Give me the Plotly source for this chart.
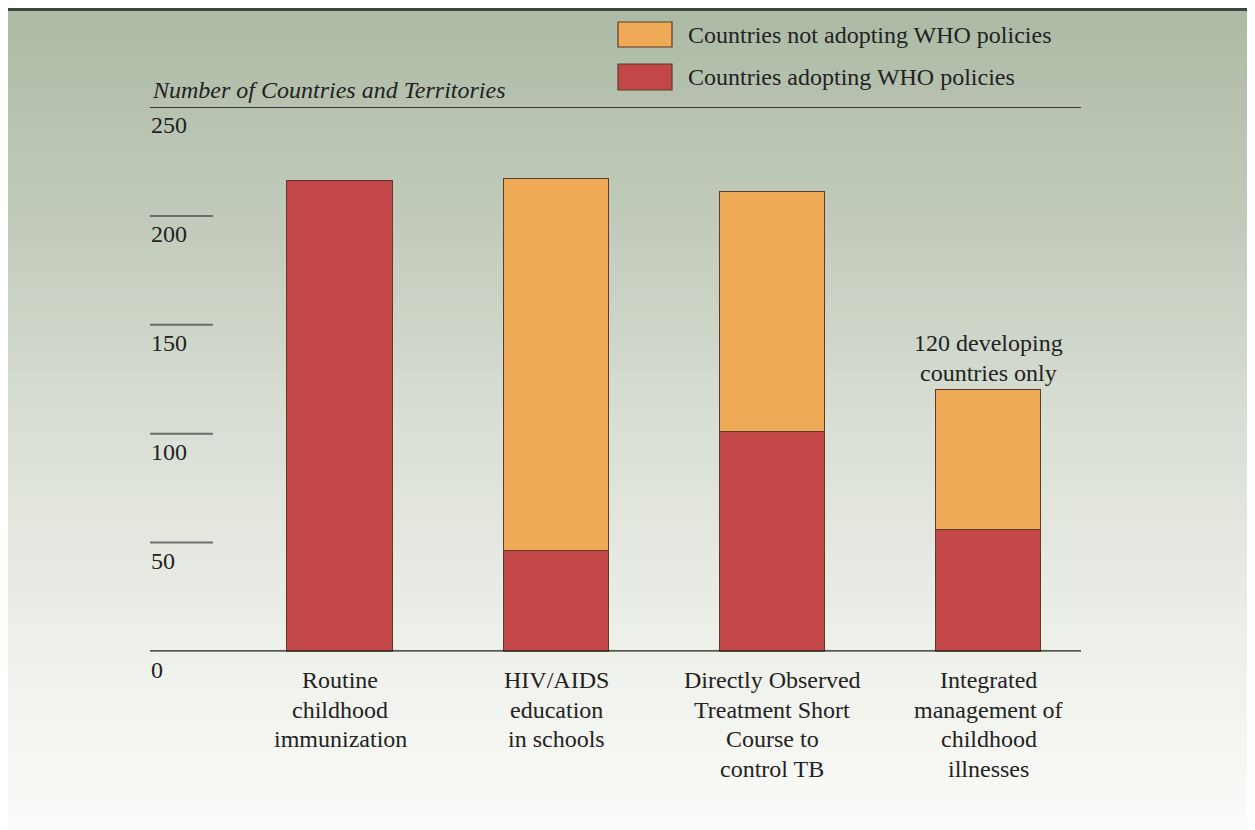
import plotly.graph_objects as go

# ---- data ----
categories = [
    "Routine<br>childhood<br>immunization",
    "HIV/AIDS<br>education<br>in schools",
    "Directly Observed<br>Treatment Short<br>Course to<br>control TB",
    "Integrated<br>management of<br>childhood<br>illnesses",
]
adopting = [216, 46, 101, 56]
not_adopting = [0, 171, 110, 64]
y_ticks = [0, 50, 100, 150, 200, 250]
y_title = "Number of Countries and Territories"
legend_labels = ["Countries not adopting WHO policies", "Countries adopting WHO policies"]
note_text = "120 developing<br>countries only"

RED = "#c44747"
ORANGE = "#eeaa56"
EDGE = "#5b3b2b"
FONT = "Liberation Serif"
TXT = "#222222"

OFF = 8  # page body margin
W, H = 1255 - OFF, 830 - OFF
def px(x):
    return (x - OFF) / W
def py(y):
    return (H - (y - OFF)) / H

x_idx = list(range(len(categories)))

fig = go.Figure()
fig.add_trace(go.Bar(x=x_idx, y=adopting, name=legend_labels[1], marker=dict(color=RED, line=dict(color=EDGE, width=1)), width=0.486))
fig.add_trace(go.Bar(x=x_idx, y=not_adopting, name=legend_labels[0], marker=dict(color=ORANGE, line=dict(color=EDGE, width=1)), width=0.486))

shapes = []
# background gradient
stops = [(0, (172, 186, 164)), (250, (196, 205, 190)), (450, (220, 225, 215)), (650, (238, 240, 234)), (830, (251, 251, 249))]
def col_at(y):
    for (y0, c0), (y1, c1) in zip(stops[:-1], stops[1:]):
        if y0 <= y <= y1:
            t = (y - y0) / (y1 - y0)
            return tuple(int(round(a + (b - a) * t)) for a, b in zip(c0, c1))
    return stops[-1][1]
n = 83
for i in range(n):
    y0 = i * 830 / n
    y1 = (i + 1) * 830 / n + 0.6
    c = col_at((y0 + y1) / 2)
    shapes.append(dict(type="rect", xref="paper", yref="paper", x0=-0.01, x1=1.01, y0=py(y1), y1=py(y0),
                       fillcolor="rgb(%d,%d,%d)" % c, line=dict(width=0), layer="below"))
# top dark rule
shapes.append(dict(type="line", xref="paper", yref="paper", x0=-0.01, x1=1.01, y0=py(9), y1=py(9),
                   line=dict(color="#3c473c", width=4), layer="above"))
# title rule at 250 and axis at 0
shapes.append(dict(type="line", xref="paper", yref="y", x0=px(150), x1=px(1081), y0=250, y1=250,
                   line=dict(color="#3a3a3a", width=2)))
shapes.append(dict(type="line", xref="paper", yref="y", x0=px(150), x1=px(1081), y0=0, y1=0,
                   line=dict(color="#1e1e1e", width=2.5), layer="above"))
# short tick lines
for v in y_ticks[1:-1]:
    shapes.append(dict(type="line", xref="paper", yref="y", x0=px(150), x1=px(213), y0=v, y1=v,
                       line=dict(color="#6e6e6e", width=2)))
# legend boxes
shapes.append(dict(type="rect", xref="paper", yref="paper", x0=px(618), x1=px(672), y0=py(47), y1=py(22),
                   fillcolor=ORANGE, line=dict(color=EDGE, width=1.2)))
shapes.append(dict(type="rect", xref="paper", yref="paper", x0=px(618), x1=px(672), y0=py(90), y1=py(64),
                   fillcolor=RED, line=dict(color=EDGE, width=1.2)))

FS = 24
LS = 29.5
def font():
    return dict(family=FONT, size=FS, color=TXT)

ann = []
for v in y_ticks:
    ann.append(dict(xref="paper", yref="y", x=px(149), y=v, yshift=-18, text=str(v), showarrow=False,
                    xanchor="left", yanchor="middle", font=font()))
ann.append(dict(xref="paper", yref="paper", x=px(150), y=py(90), text="<i>" + y_title + "</i>", showarrow=False,
                xanchor="left", yanchor="middle", font=font()))
for i, c in enumerate(categories):
    for j, line in enumerate(c.split("<br>")):
        ann.append(dict(xref="x", yref="paper", x=i, y=py(680 + j * LS), text=line, showarrow=False,
                        xanchor="center", yanchor="middle", font=font()))
note_lines = note_text.split("<br>")
for j, line in enumerate(note_lines):
    ann.append(dict(xref="x", yref="y", x=3, y=adopting[3] + not_adopting[3],
                    yshift=47 - (len(note_lines) - 1 - j) * -0 - j * LS, text=line, showarrow=False,
                    xanchor="center", yanchor="middle", font=font()))
ann.append(dict(xref="paper", yref="paper", x=px(686), y=py(35), text=legend_labels[0], showarrow=False,
                xanchor="left", yanchor="middle", font=font()))
ann.append(dict(xref="paper", yref="paper", x=px(686), y=py(77), text=legend_labels[1], showarrow=False,
                xanchor="left", yanchor="middle", font=font()))

fig.update_layout(
    width=W, height=H,
    margin=dict(l=0, r=0, t=0, b=0),
    paper_bgcolor="white", plot_bgcolor="rgba(0,0,0,0)",
    barmode="stack", bargap=0, showlegend=False,
    xaxis=dict(domain=[px(150), px(1080)], range=[-0.879, 3.423], showgrid=False, zeroline=False,
               showticklabels=False, ticks="", showline=False, fixedrange=True),
    yaxis=dict(domain=[py(651.5), py(107)], range=[0, 250], showgrid=False, zeroline=False,
               showticklabels=False, ticks="", showline=False, fixedrange=True),
    shapes=shapes, annotations=ann,
)
fig.write_html("out.html")
